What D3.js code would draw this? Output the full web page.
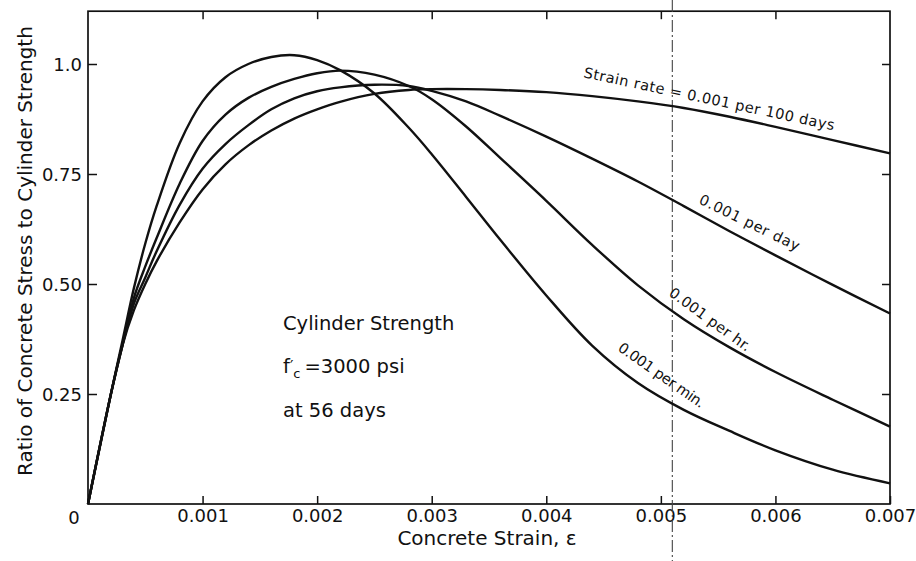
<!DOCTYPE html>
<html>
<head>
<meta charset="utf-8">
<script src="https://cdn.jsdelivr.net/npm/d3@7"></script>
<style>
  body { margin: 0; background: #fff; }
  text { font-family: 'DejaVu Sans', sans-serif; fill: #111; }
</style>
</head>
<body>
<svg id="chart" width="916" height="561"></svg>
<script>
(function(){

  const strain = [0, 0.0002, 0.0003, 0.0004, 0.0005, 0.0006, 0.0008, 0.0010, 0.0012,
    0.0014, 0.0016, 0.0018, 0.0020, 0.0022, 0.0025, 0.0028, 0.0030, 0.0033,
    0.0036, 0.0040, 0.0044, 0.0048, 0.0052, 0.0056, 0.0060, 0.0065, 0.0070]

  const ratioPerMin = [0, 0.25, 0.37, 0.49, 0.592, 0.678, 0.82, 0.915, 0.97,
    1.0, 1.016, 1.02, 1.009, 0.986, 0.933, 0.855, 0.795, 0.698,
    0.60, 0.474, 0.36, 0.275, 0.214, 0.166, 0.122, 0.078, 0.047]

  const ratioPerHour = [0, 0.25, 0.36, 0.468, 0.54, 0.605, 0.728, 0.825, 0.885,
    0.923, 0.948, 0.966, 0.979, 0.985, 0.976, 0.95, 0.92, 0.858,
    0.786, 0.689, 0.589, 0.497, 0.42, 0.356, 0.30, 0.237, 0.176]

  const ratioPerDay = [0, 0.25, 0.36, 0.455, 0.515, 0.575, 0.68, 0.762, 0.818,
    0.861, 0.897, 0.922, 0.938, 0.947, 0.953, 0.95, 0.939, 0.915,
    0.882, 0.835, 0.785, 0.733, 0.677, 0.62, 0.565, 0.498, 0.433]

  const ratioPer100Days = [0, 0.25, 0.36, 0.44, 0.50, 0.552, 0.64, 0.715, 0.772,
    0.815, 0.849, 0.876, 0.897, 0.914, 0.932, 0.941, 0.943, 0.943,
    0.941, 0.936, 0.927, 0.915, 0.90, 0.88, 0.857, 0.827, 0.797]

  const seriesNames = ['0.001 per min.', '0.001 per hr.', '0.001 per day',
    'Strain rate = 0.001 per 100 days']

  const xTicks = [0.001, 0.002, 0.003, 0.004, 0.005, 0.006, 0.007]
  const yTicks = [0.25, 0.5, 0.75, 1.0]
  const yTickLabels = ['0.25', '0.50', '0.75', '1.0']

  const series = [ratioPerMin, ratioPerHour, ratioPerDay, ratioPer100Days]

  var svg = d3.select('#chart')

  var x = d3.scaleLinear().domain([0, 0.007]).range([88, 890])
  var y = d3.scaleLinear().domain([0, 1]).range([504, 64])
  var yTop = 1.12

  // frame
  svg.append('rect')
     .attr('x', x(0)).attr('y', y(yTop))
     .attr('width', x(0.007) - x(0)).attr('height', y(0) - y(yTop))
     .attr('fill', 'none').attr('stroke', '#111').attr('stroke-width', 1.7)

  var bottom = svg.append('g').attr('transform', `translate(0,${y(0)})`)
     .call(d3.axisBottom(x).tickValues(xTicks).tickSize(-8)
             .tickFormat(d3.format('.3f')))
  var left = svg.append('g').attr('transform', `translate(${x(0)},0)`)
     .call(d3.axisLeft(y).tickValues(yTicks).tickSize(-9).tickPadding(6)
             .tickFormat(function(d, i) { return yTickLabels[i] }))
  var top = svg.append('g').attr('transform', `translate(0,${y(yTop)})`)
     .call(d3.axisTop(x).tickValues(xTicks.slice(0, -1)).tickSize(-8).tickFormat(''))
  var right = svg.append('g').attr('transform', `translate(${x(0.007)},0)`)
     .call(d3.axisRight(y).tickValues(yTicks).tickSize(-8).tickFormat(''))

  ;[bottom, left, top, right].forEach(function(g) {
    g.select('.domain').remove()
    g.selectAll('line').attr('stroke', '#111').attr('stroke-width', 1.5)
    g.selectAll('text').attr('font-family', 'DejaVu Sans')
     .attr('font-size', '18px').attr('fill', '#111')
  })
  left.selectAll('text').attr('dy', '0.36em')
  bottom.selectAll('text').attr('dy', 0).attr('y', 18)

  svg.append('text').attr('x', 74).attr('y', 524)
     .attr('text-anchor', 'middle').attr('font-size', '18px').text('0')

  // dash-dot fold line
  svg.append('line')
     .attr('x1', x(0.0051)).attr('x2', x(0.0051))
     .attr('y1', 0).attr('y2', 561)
     .attr('stroke', '#444').attr('stroke-width', 1.1)
     .attr('stroke-dasharray', '12,3,2,3')

  var line = d3.line()
     .x(function(d) { return x(d[0]) })
     .y(function(d) { return y(d[1]) })
     .curve(d3.curveCatmullRom.alpha(0.5))

  svg.append('g').selectAll('path').data(series).enter().append('path')
     .attr('d', function(vals) { return line(strain.map(function(s, i) { return [s, vals[i]] })) })
     .attr('fill', 'none').attr('stroke', '#111').attr('stroke-width', 2.4)
     .attr('stroke-linejoin', 'round')

  // curve labels: [strain, ratio, angle, length]
  var labelPos = [[0.004617, 0.35, 35, 102], [0.005062, 0.475, 36, 97],
                  [0.005324, 0.684, 26, 110], [0.00432, 0.970, 12, 256]]

  svg.append('g').selectAll('text').data(seriesNames).enter().append('text')
     .attr('transform', function(d, i) {
       var p = labelPos[i]
       return `translate(${x(p[0])},${y(p[1])}) rotate(${p[2]})` })
     .attr('font-size', '14.5px')
     .attr('textLength', function(d, i) { return labelPos[i][3] })
     .attr('lengthAdjust', 'spacing')
     .text(function(d) { return d })

  // note
  var note = svg.append('g').attr('font-size', '19.5px')
  note.append('text').attr('x', 283).attr('y', 330).text('Cylinder Strength')
  var fc = note.append('text').attr('x', 283).attr('y', 373)
  fc.append('tspan').text('f')
  fc.append('tspan').attr('font-size', '15px').attr('dy', -1).text('\u2032')
  fc.append('tspan').attr('font-size', '13px').attr('dy', 6).text('c')
  fc.append('tspan').attr('dx', 4).attr('dy', -5).text('=3000 psi')
  note.append('text').attr('x', 283).attr('y', 417).text('at 56 days')

  // axis titles
  svg.append('text').attr('x', 487).attr('y', 545)
     .attr('text-anchor', 'middle').attr('font-size', '20px')
     .text('Concrete Strain, \u03b5')

  svg.append('text').attr('transform', 'translate(32,251) rotate(-90)')
     .attr('text-anchor', 'middle').attr('font-size', '20px')
     .text('Ratio of Concrete Stress to Cylinder Strength')

})()
</script>
</body>
</html>
